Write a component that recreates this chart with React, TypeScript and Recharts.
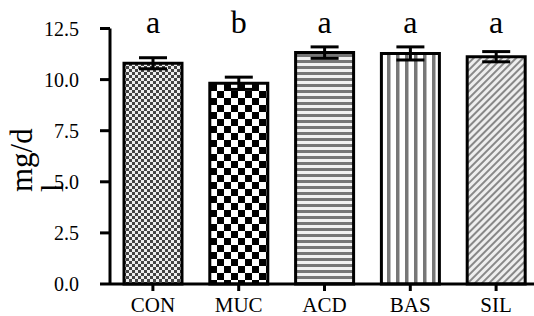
import React from 'react';
import { BarChart, Bar, XAxis, YAxis, ErrorBar, LabelList, Cell } from 'recharts';

const groups = ['CON', 'MUC', 'ACD', 'BAS', 'SIL'];
const means = [10.8, 9.82, 11.32, 11.28, 11.12];
const errors = [0.27, 0.3, 0.28, 0.32, 0.25];
const letters = ['a', 'b', 'a', 'a', 'a'];
const yTicks = [0, 2.5, 5, 7.5, 10, 12.5];
const fills = ['url(#pCon)', 'url(#pMuc)', 'url(#pAcd)', 'url(#pBas)', 'url(#pSil)'];

const data = groups.map((g, i) => ({ name: g, value: means[i], err: errors[i], letter: letters[i] }));

const FONT = 'Liberation Serif';

const renderLetter = (props: any) => {
    const { x, width, value } = props;
    return (
        <text x={Number(x) + Number(width) / 2} y={33} textAnchor="middle" fontFamily={FONT} fontSize={32} fill="#000">
            {value}
        </text>
    );
};

const renderYLabel = () => (
    <text x={32} y={192} transform="rotate(-90, 32, 192)" fontFamily={FONT} fontSize={31} fill="#000" textAnchor="start">
        <tspan x={32} dy={0}>mg/d</tspan>
        <tspan x={32} dy="1em">l</tspan>
    </text>
);

export default function App() {
    return (
        <div style={{ position: 'absolute', left: 0, top: 0, width: 534, height: 316, overflow: 'hidden', background: '#fff' }}>
            <BarChart width={560} height={316} data={data} margin={{ top: 28.5, right: 21, bottom: 0, left: 0 }} barSize={58}>
                <defs>
                    <pattern id="pCon" width="6" height="6" patternUnits="userSpaceOnUse">
                        <rect width="6" height="6" fill="#eee" />
                        <rect width="3" height="3" fill="#444" />
                        <rect x="3" y="3" width="3" height="3" fill="#444" />
                    </pattern>
                    <pattern id="pMuc" width="14" height="14" patternUnits="userSpaceOnUse">
                        <rect width="14" height="14" fill="#fff" />
                        <rect width="7" height="7" fill="#000" />
                        <rect x="7" y="7" width="7" height="7" fill="#000" />
                    </pattern>
                    <pattern id="pAcd" width="6" height="6" patternUnits="userSpaceOnUse">
                        <rect width="6" height="6" fill="#f2f2f2" />
                        <rect width="6" height="3" fill="#777" />
                    </pattern>
                    <pattern id="pBas" width="9" height="9" patternUnits="userSpaceOnUse">
                        <rect width="9" height="9" fill="#fff" />
                        <rect width="3.5" height="9" fill="#777" />
                    </pattern>
                    <pattern id="pSil" width="5" height="5" patternUnits="userSpaceOnUse" patternTransform="rotate(45)">
                        <rect width="5" height="5" fill="#eee" />
                        <rect width="2" height="5" fill="#888" />
                    </pattern>
                </defs>
                <XAxis
                    dataKey="name"
                    height={32}
                    axisLine={{ stroke: '#000', strokeWidth: 3 }}
                    tickLine={{ stroke: '#000', strokeWidth: 3 }}
                    tickSize={7}
                    tickMargin={6}
                    tick={{ fill: '#000', fontSize: 21, fontFamily: FONT }}
                />
                <YAxis
                    width={110}
                    domain={[0, 12.5]}
                    ticks={yTicks}
                    interval={0}
                    tickFormatter={(v: number) => v.toFixed(1)}
                    axisLine={{ stroke: '#000', strokeWidth: 3 }}
                    tickLine={{ stroke: '#000', strokeWidth: 3 }}
                    tickSize={10}
                    tickMargin={21}
                    tick={{ fill: '#000', fontSize: 20, fontFamily: FONT }}
                    label={{ content: renderYLabel }}
                />
                <Bar dataKey="value" stroke="#000" strokeWidth={3} isAnimationActive={false}>
                    {data.map((d, i) => (
                        <Cell key={d.name} fill={fills[i]} />
                    ))}
                    <ErrorBar dataKey="err" width={14} stroke="#000" strokeWidth={3} direction="y" />
                    <LabelList dataKey="letter" content={renderLetter} />
                </Bar>
            </BarChart>
        </div>
    );
}
